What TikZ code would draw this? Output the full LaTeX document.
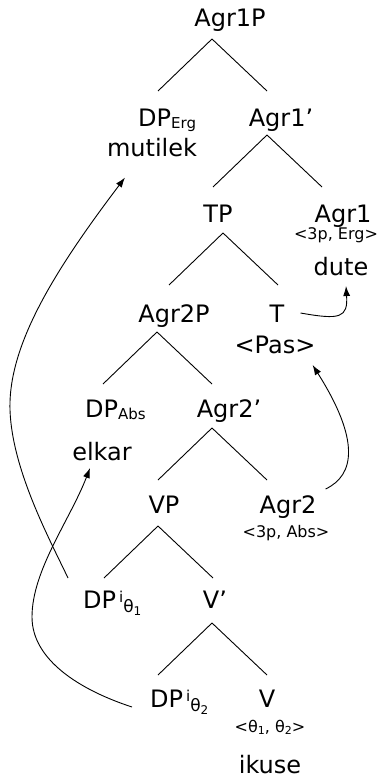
\documentclass[tikz,border=0pt]{standalone}
\usepackage{fontspec}
\setmainfont{DejaVu Sans}
\usetikzlibrary{arrows.meta}

\newcommand{\subtxt}[1]{\raisebox{-2pt}{\fontsize{15}{15}\selectfont #1}}
\newcommand{\thidx}[1]{\hspace{3pt}\raisebox{6pt}{\fontsize{15}{15}\selectfont i}\raisebox{-4pt}{\fontsize{17}{17}\selectfont θ}\raisebox{-7pt}{\fontsize{12}{12}\selectfont #1}}
\newcommand{\thsm}[1]{θ\raisebox{-2pt}{\fontsize{11}{11}\selectfont #1}}

\begin{document}
\begin{tikzpicture}[x=1pt,y=-1pt,
  every node/.style={inner sep=0pt,font=\fontsize{24}{28}\selectfont},
  feat/.style={font=\fontsize{16}{18}\selectfont},
  branch/.style={line width=0.9pt},
  move/.style={line width=0.9pt,-{Latex[length=10pt,width=7pt]}}]
  \useasboundingbox (0,0) rectangle (381,778);

  % tree labels
  \node[anchor=base] (agronep) at (230,27) {Agr1P};
  \node[anchor=base west] (dperg) at (138,127) {DP\subtxt{Erg}};
  \node[anchor=base] (mutilek) at (152,157) {mutilek};
  \node[anchor=base] (agronebar) at (281,127) {Agr1’};
  \node[anchor=base] (tp) at (218,222) {TP};
  \node[anchor=base] (agrone) at (343,222) {Agr1};
  \node[anchor=base,feat] (ergfeat) at (336,239) {<3p, Erg>};
  \node[anchor=base] (dute) at (341,275) {dute};
  \node[anchor=base] (agrtwop) at (174,322) {Agr2P};
  \node[anchor=base] (t) at (277,322) {T};
  \node[anchor=base] (pas) at (275,353) {<Pas>};
  \node[anchor=base west] (dpabs) at (85,417) {DP\subtxt{Abs}};
  \node[anchor=base] (agrtwobar) at (229,417) {Agr2’};
  \node[anchor=base] (elkar) at (102,460) {elkar};
  \node[anchor=base] (vp) at (164,513) {VP};
  \node[anchor=base] (agrtwo) at (288,513) {Agr2};
  \node[anchor=base,feat] (absfeat) at (286,537) {<3p, Abs>};
  \node[anchor=base west] (dpa) at (83,608) {DP\thidx{1}};
  \node[anchor=base] (vbar) at (215,608) {V’};
  \node[anchor=base west] (dpb) at (150,707) {DP\thidx{2}};
  \node[anchor=base] (v) at (267,707) {V};
  \node[anchor=base,feat] (thfeat) at (270,732) {<\thsm{1}, \thsm{2}>};
  \node[anchor=base] (ikuse) at (270,773) {ikuse};

  % branches
  \foreach \m/\x/\y in {agronep/212/39, agronebar/267/135, tp/223/233, agrtwop/157/332,
                        agrtwobar/212/428, vp/158/526, vbar/212/623}
    \draw[branch] (\x,\y) coordinate (\m-b) -- ++(-54,52) (\m-b) -- ++(55,52);

  % movement
  \draw[move] ([shift={(-15,-30)}]dpa.base west) .. controls (50,540) and (12,470) .. (10,410)
     .. controls (8,345) and (55,270) .. ([shift={(-27,20)}]mutilek.south);
  \draw[move] ([shift={(-18,0)}]dpb.base west) .. controls (80,690) and (32,660) .. (32,617)
     .. controls (32,570) and (70,520) .. ([shift={(-12,8)}]elkar.base);
  \draw[move] ([shift={(16,-9)}]t.base east) .. controls (340,320) and (348,318) .. ([shift={(5,11)}]dute.base);
  \draw[move] ([shift={(9,-24)}]agrtwo.base east) .. controls (355,475) and (360,440) .. ([shift={(-3,12)}]pas.base east);
\end{tikzpicture}
\end{document}
